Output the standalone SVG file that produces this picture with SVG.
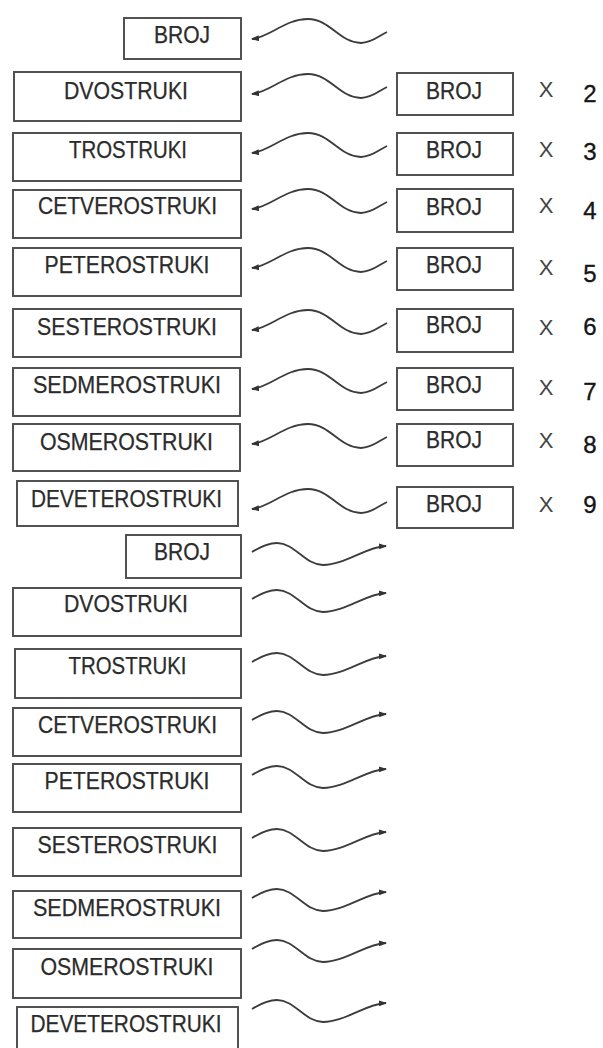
<svg xmlns="http://www.w3.org/2000/svg" xmlns:xlink="http://www.w3.org/1999/xlink" width="603" height="1048" viewBox="0 0 603 1048">
  <style>
    .box { fill: #fff; stroke: #4a4a4a; stroke-width: 1.9; }
    .lbl { font-family: "Liberation Sans", Arial, sans-serif; font-size: 23px; fill: #2b2b2b; stroke: #2b2b2b; stroke-width: 0.25; text-anchor: middle; }
    .times { font-family: "Liberation Sans", Arial, sans-serif; font-size: 22px; fill: #444; text-anchor: middle; }
    .num { font-family: "Liberation Sans", Arial, sans-serif; font-size: 24px; fill: #151515; stroke: #151515; stroke-width: 0.35; text-anchor: middle; }
    .wave { fill: none; stroke: #3c3c3c; stroke-width: 1.8; }
  </style>
  <defs>
    <marker id="tip" viewBox="0 0 8 6" refX="7" refY="3" markerWidth="8" markerHeight="6" markerUnits="userSpaceOnUse" orient="auto">
      <path d="M0,0 L8,3 L0,6 z" fill="#333"/>
    </marker>
    <!-- wave pointing left, arrow tip at (252,0) -->
    <path id="waveLeft" class="wave" marker-end="url(#tip)" d="M387,-7 C380,-4 372,4 361,4 C340,4 330,-20 308,-20 C285,-20 270,-2 252,0"/>
    <!-- wave pointing right, starts at (252,0) -->
    <path id="waveRight" class="wave" marker-end="url(#tip)" d="M252,0 C260,-5 268,-9 277,-9 C295,-9 305,13 323,13 C345,13 365,-5 386,-6"/>
  </defs>
  <rect width="603" height="1048" fill="#fff"/>

  <!-- connectors -->
  <g id="connectors">
    <use xlink:href="#waveLeft" y="39"/>
    <use xlink:href="#waveLeft" y="94"/>
    <use xlink:href="#waveLeft" y="153"/>
    <use xlink:href="#waveLeft" y="209"/>
    <use xlink:href="#waveLeft" y="268"/>
    <use xlink:href="#waveLeft" y="330"/>
    <use xlink:href="#waveLeft" y="389"/>
    <use xlink:href="#waveLeft" y="444"/>
    <use xlink:href="#waveLeft" y="509"/>
    <use xlink:href="#waveRight" y="552"/>
    <use xlink:href="#waveRight" y="599"/>
    <use xlink:href="#waveRight" y="662"/>
    <use xlink:href="#waveRight" y="720"/>
    <use xlink:href="#waveRight" y="775"/>
    <use xlink:href="#waveRight" y="838"/>
    <use xlink:href="#waveRight" y="898"/>
    <use xlink:href="#waveRight" y="949"/>
    <use xlink:href="#waveRight" y="1009"/>
  </g>

  <!-- upper column of names -->
  <g id="n-broj-top"><rect class="box" x="124" y="18" width="117" height="41"/><text class="lbl" x="182" y="43" textLength="56" lengthAdjust="spacingAndGlyphs">BROJ</text></g>
  <g id="n-dvostruki-top"><rect class="box" x="14" y="72" width="227" height="49"/><text class="lbl" x="126" y="99" textLength="124" lengthAdjust="spacingAndGlyphs">DVOSTRUKI</text></g>
  <g id="n-trostruki-top"><rect class="box" x="13" y="133" width="228" height="48"/><text class="lbl" x="128" y="158" textLength="118" lengthAdjust="spacingAndGlyphs">TROSTRUKI</text></g>
  <g id="n-cetverostruki-top"><rect class="box" x="13" y="190" width="228" height="48"/><text class="lbl" x="127.5" y="214" textLength="179" lengthAdjust="spacingAndGlyphs">CETVEROSTRUKI</text></g>
  <g id="n-peterostruki-top"><rect class="box" x="13" y="248" width="228" height="48"/><text class="lbl" x="127" y="273" textLength="165" lengthAdjust="spacingAndGlyphs">PETEROSTRUKI</text></g>
  <g id="n-sesterostruki-top"><rect class="box" x="13" y="309" width="228" height="48"/><text class="lbl" x="127" y="335" textLength="180" lengthAdjust="spacingAndGlyphs">SESTEROSTRUKI</text></g>
  <g id="n-sedmerostruki-top"><rect class="box" x="13" y="368" width="227" height="48"/><text class="lbl" x="127" y="393" textLength="188" lengthAdjust="spacingAndGlyphs">SEDMEROSTRUKI</text></g>
  <g id="n-osmerostruki-top"><rect class="box" x="13" y="424" width="227" height="47"/><text class="lbl" x="126.5" y="450" textLength="173" lengthAdjust="spacingAndGlyphs">OSMEROSTRUKI</text></g>
  <g id="n-deveterostruki-top"><rect class="box" x="17" y="481" width="221" height="45"/><text class="lbl" x="126.5" y="507" textLength="191" lengthAdjust="spacingAndGlyphs">DEVETEROSTRUKI</text></g>

  <!-- multiplications -->
  <g id="m2"><rect class="box" x="397" y="73" width="116" height="42"/><text class="lbl" x="454" y="99" textLength="56" lengthAdjust="spacingAndGlyphs">BROJ</text><text class="times" x="546" y="97">X</text><text class="num" x="590" y="102">2</text></g>
  <g id="m3"><rect class="box" x="397" y="133" width="116" height="42"/><text class="lbl" x="454" y="158" textLength="56" lengthAdjust="spacingAndGlyphs">BROJ</text><text class="times" x="546" y="157">X</text><text class="num" x="590" y="160">3</text></g>
  <g id="m4"><rect class="box" x="397" y="189" width="116" height="43"/><text class="lbl" x="454" y="215" textLength="56" lengthAdjust="spacingAndGlyphs">BROJ</text><text class="times" x="546" y="213">X</text><text class="num" x="590" y="219">4</text></g>
  <g id="m5"><rect class="box" x="397" y="248" width="116" height="42"/><text class="lbl" x="454" y="273" textLength="56" lengthAdjust="spacingAndGlyphs">BROJ</text><text class="times" x="546" y="275">X</text><text class="num" x="590" y="282">5</text></g>
  <g id="m6"><rect class="box" x="397" y="309" width="116" height="43"/><text class="lbl" x="454" y="333" textLength="56" lengthAdjust="spacingAndGlyphs">BROJ</text><text class="times" x="546" y="335">X</text><text class="num" x="590" y="335">6</text></g>
  <g id="m7"><rect class="box" x="397" y="368" width="116" height="42"/><text class="lbl" x="454" y="393" textLength="56" lengthAdjust="spacingAndGlyphs">BROJ</text><text class="times" x="546" y="395">X</text><text class="num" x="590" y="400">7</text></g>
  <g id="m8"><rect class="box" x="397" y="424" width="116" height="42"/><text class="lbl" x="454" y="448" textLength="56" lengthAdjust="spacingAndGlyphs">BROJ</text><text class="times" x="546" y="448">X</text><text class="num" x="590" y="453">8</text></g>
  <g id="m9"><rect class="box" x="397" y="487" width="116" height="41"/><text class="lbl" x="454" y="512" textLength="56" lengthAdjust="spacingAndGlyphs">BROJ</text><text class="times" x="546" y="512">X</text><text class="num" x="590" y="513">9</text></g>

  <!-- lower column of names -->
  <g id="n-broj-bottom"><rect class="box" x="126" y="535" width="115" height="43"/><text class="lbl" x="182" y="560" textLength="56" lengthAdjust="spacingAndGlyphs">BROJ</text></g>
  <g id="n-dvostruki-bottom"><rect class="box" x="13" y="588" width="228" height="48"/><text class="lbl" x="126" y="612" textLength="124" lengthAdjust="spacingAndGlyphs">DVOSTRUKI</text></g>
  <g id="n-trostruki-bottom"><rect class="box" x="15" y="649" width="226" height="49"/><text class="lbl" x="127.5" y="674" textLength="118" lengthAdjust="spacingAndGlyphs">TROSTRUKI</text></g>
  <g id="n-cetverostruki-bottom"><rect class="box" x="13" y="708" width="228" height="48"/><text class="lbl" x="127.5" y="733" textLength="179" lengthAdjust="spacingAndGlyphs">CETVEROSTRUKI</text></g>
  <g id="n-peterostruki-bottom"><rect class="box" x="13" y="764" width="228" height="48"/><text class="lbl" x="127" y="789" textLength="165" lengthAdjust="spacingAndGlyphs">PETEROSTRUKI</text></g>
  <g id="n-sesterostruki-bottom"><rect class="box" x="13" y="828" width="228" height="48"/><text class="lbl" x="127.5" y="853" textLength="180" lengthAdjust="spacingAndGlyphs">SESTEROSTRUKI</text></g>
  <g id="n-sedmerostruki-bottom"><rect class="box" x="13" y="891" width="228" height="47"/><text class="lbl" x="127" y="916" textLength="188" lengthAdjust="spacingAndGlyphs">SEDMEROSTRUKI</text></g>
  <g id="n-osmerostruki-bottom"><rect class="box" x="13" y="949" width="228" height="49"/><text class="lbl" x="127" y="975" textLength="173" lengthAdjust="spacingAndGlyphs">OSMEROSTRUKI</text></g>
  <g id="n-deveterostruki-bottom"><rect class="box" x="17" y="1007" width="221" height="50"/><text class="lbl" x="126" y="1032" textLength="191" lengthAdjust="spacingAndGlyphs">DEVETEROSTRUKI</text></g>
</svg>
